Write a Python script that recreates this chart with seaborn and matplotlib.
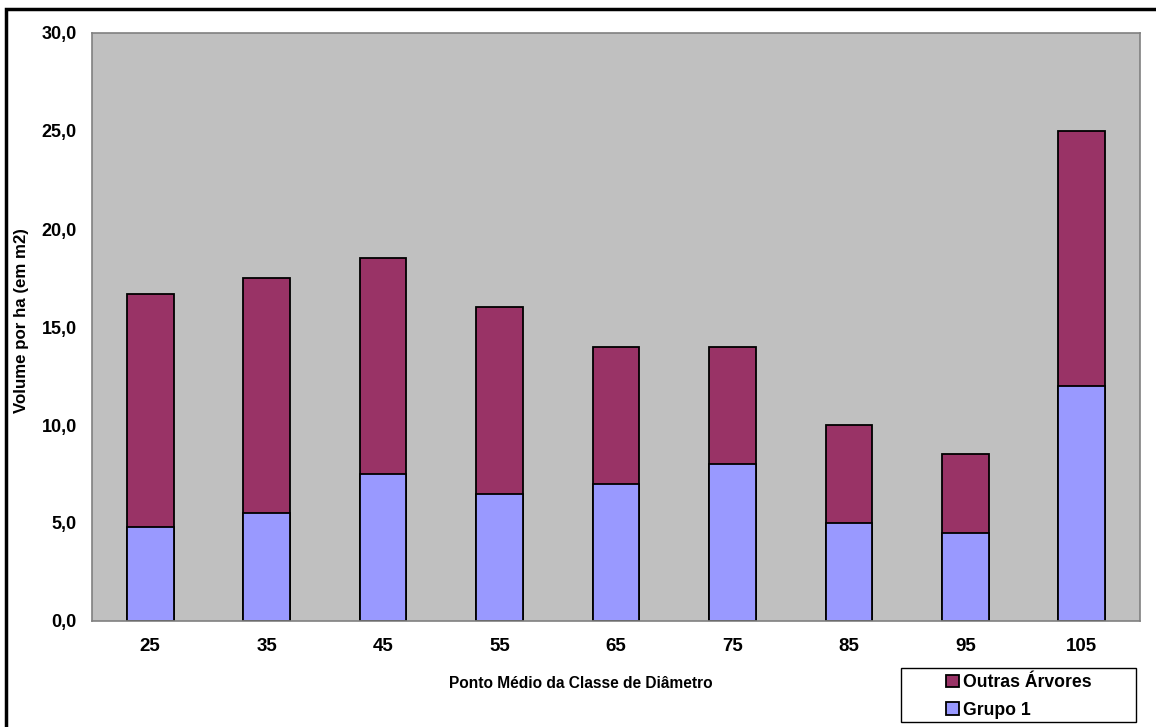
import numpy as np
import pandas as pd
import matplotlib
matplotlib.use("Agg")
import matplotlib.pyplot as plt
import seaborn as sns
from matplotlib.patches import Rectangle

# dados
classes = ["25", "35", "45", "55", "65", "75", "85", "95", "105"]
grupo1 = [4.8, 5.5, 7.5, 6.5, 7.0, 8.0, 5.0, 4.5, 12.0]
outras = [11.9, 12.0, 11.0, 9.5, 7.0, 6.0, 5.0, 4.0, 13.0]

df = pd.DataFrame({"classe": classes, "grupo1": grupo1, "outras": outras})
df["total"] = df["grupo1"] + df["outras"]

sns.set_style("white")
plt.rcParams['font.family'] = ['Liberation Sans', 'DejaVu Sans']
plt.rcParams['font.weight'] = 'bold'
plt.rcParams['text.color'] = 'black'
plt.rcParams['xtick.color'] = 'black'
plt.rcParams['ytick.color'] = 'black'

fig = plt.figure(figsize=(11.56, 7.27), dpi=100)
W, H = 1156, 727
ax = fig.add_axes([92 / W, 1 - 621 / H, (1140 - 92) / W, (621 - 33) / H])
ax.set_facecolor("#C0C0C0")

# borda externa do grafico
fig.patches.append(Rectangle((6 / W, -0.05), 1.1, 1 - 9 / H + 0.05,
                             transform=fig.transFigure, fill=False,
                             edgecolor="black", linewidth=2.5, zorder=0))

sns.barplot(data=df, x="classe", y="total", color="#993366", width=0.4,
            edgecolor="black", linewidth=1.3, saturation=1, ax=ax,
            label="Outras Árvores")
sns.barplot(data=df, x="classe", y="grupo1", color="#9999FF", width=0.4,
            edgecolor="black", linewidth=1.3, saturation=1, ax=ax,
            label="Grupo 1")
if ax.get_legend() is not None:
    ax.get_legend().remove()

ax.set_ylim(0, 30)
ax.set_xlim(-0.5, len(classes) - 0.5)
ticks = np.arange(0, 31, 5)
ax.set_yticks(ticks)
ax.set_yticklabels([f"{t:.1f}".replace(".", ",") for t in ticks],
                   fontsize=13, fontweight="bold")
ax.tick_params(axis="y", direction="out", length=6, width=1, color="black", pad=5)
ax.tick_params(axis="x", length=0, pad=12, labelsize=13.5)
for lab in ax.get_xticklabels():
    lab.set_fontweight("bold")
for s in ax.spines.values():
    s.set_color("#808080")
    s.set_linewidth(1.2)
ax.set_xlabel("")
ax.set_ylabel("")

fig.text(22 / W, 1 - 321 / H, "Volume por ha (em m2)", rotation=90,
         ha="center", va="center", fontsize=12.2, fontweight="bold")
fig.text(581 / W, 1 - 683 / H, "Ponto Médio da Classe de Diâmetro",
         ha="center", va="center", fontsize=11.2, fontweight="bold")

# caixa da legenda
fig.patches.append(Rectangle((901 / W, 1 - 722 / H), (1136 - 901) / W, 54 / H,
                             transform=fig.transFigure, facecolor="white",
                             edgecolor="black", linewidth=1, zorder=0))
handles, labels = ax.get_legend_handles_labels()
leg = fig.legend(handles, labels, loc="upper left",
                 bbox_to_anchor=(946 / W, 1 - 674 / H), bbox_transform=fig.transFigure,
                 frameon=False, handlelength=0.72, handleheight=0.72, handletextpad=0.25,
                 labelspacing=0.6, borderpad=0, borderaxespad=0,
                 prop={"size": 12.7, "weight": "bold"})
leg.set_zorder(5)

fig.savefig("out.png", dpi=100)
